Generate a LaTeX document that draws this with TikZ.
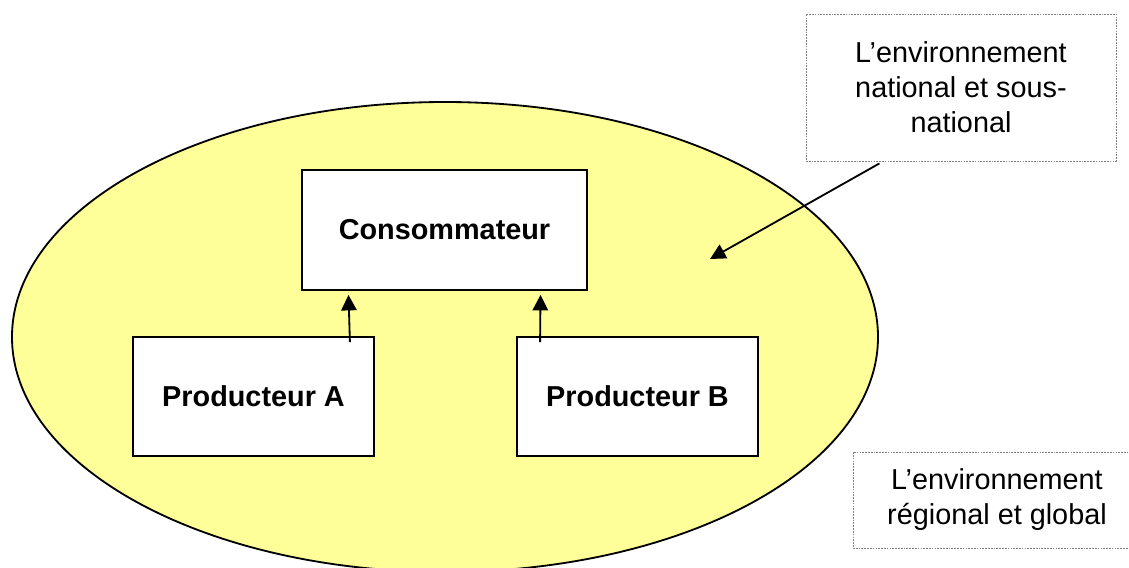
\documentclass[tikz,border=0pt]{standalone}
\usepackage{fontspec}
\setmainfont{Liberation Sans}
\usetikzlibrary{positioning, arrows.meta, shapes.geometric}
\definecolor{envYellow}{RGB}{255,255,153}

\begin{document}
\begin{tikzpicture}[x=0.025cm, y=-0.025cm,
		actor/.style={draw, line width=1.3pt, fill=white, inner sep=0pt, font=\fontsize{20.5}{24.9}\selectfont\bfseries, align=center},
		envbox/.style={draw=gray, line width=0.6pt, dash pattern=on 1.2pt off 0.8pt, fill=white, inner sep=0pt, font=\fontsize{20.5}{24.9}\selectfont, align=center},
		flow/.style={-{Triangle[length=11pt, width=11pt]}, line width=1.3pt}]
	\useasboundingbox (0,0) rectangle (1129,567);
	% the region
	\draw[line width=1.3pt, fill=envYellow] (445,337) ellipse [x radius=433, y radius=235];
	% actors
	\node[actor, minimum width=285*0.025cm, minimum height=120*0.025cm] (cons) at (444.5,230) {Consommateur};
	\node[actor, minimum width=241*0.025cm, minimum height=119*0.025cm] (pa) at (253.5,396.5) {Producteur A};
	\node[actor, minimum width=241*0.025cm, minimum height=119*0.025cm] (pb) at (637.5,396.5) {Producteur B};
	\draw[flow] ([xshift=-25*0.025cm, yshift=-6*0.025cm]pa.north east) -- ([xshift=-96*0.025cm, yshift=-4*0.025cm]cons.south);
	\draw[flow] ([xshift=24*0.025cm, yshift=-6*0.025cm]pb.north west) -- ([xshift=96*0.025cm, yshift=-4*0.025cm]cons.south);
	% environments
	\node[envbox, minimum width=310*0.025cm, minimum height=147*0.025cm] (nat) at (961,87.5) {L’environnement\\national et sous-\\national};
	\node[envbox, minimum width=288*0.025cm, minimum height=96*0.025cm] (reg) at (997,500) {L’environnement\\régional et global};
	\coordinate (natin) at (710,259);
	\draw[flow] ([xshift=-237*0.025cm, yshift=-2*0.025cm]nat.south east) -- (natin);
\end{tikzpicture}
\end{document}
